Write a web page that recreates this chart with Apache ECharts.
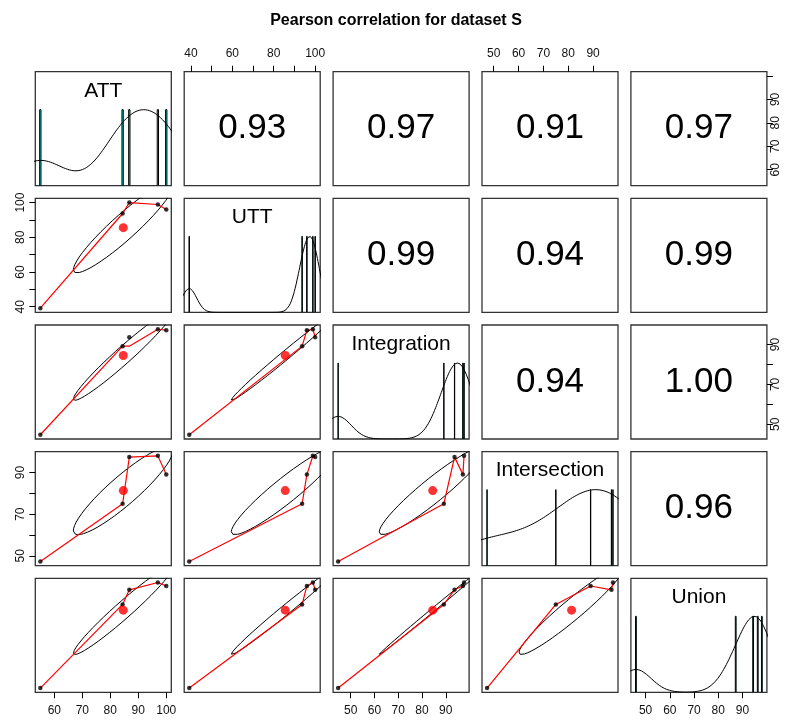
<!DOCTYPE html>
<html>
<head>
<meta charset="utf-8">
<script src="https://cdn.jsdelivr.net/npm/echarts@6/dist/echarts.min.js"></script>
<style>
  html, body { margin: 0; padding: 0; background: #fff; }
  #chart { width: 792px; height: 722px; }
</style>
</head>
<body>
<div id="chart"></div>
<script>
const names = ['ATT', 'UTT', 'Integration', 'Intersection', 'Union']
const att = [55, 84.4, 86.8, 97, 100]
const utt = [39.2, 93.7, 100, 98.9, 96.0]
const integration = [44.7, 89.2, 93.7, 97.7, 97.2]
const intersection = [47.3, 75.0, 97.4, 98.0, 89.0]
const union = [46.0, 87.2, 94.4, 98.0, 96.3]

// printed correlations, upper triangle row by row
const corText = ['0.93', '0.97', '0.91', '0.97', '0.99', '0.94', '0.99', '0.94', '1.00', '0.96']

// ticks and printed labels for each variable's axis
const ticks = [[60, 70, 80, 90, 100], [40, 50, 60, 70, 80, 90, 100], [50, 60, 70, 80, 90], [50, 60, 70, 80, 90], [50, 60, 70, 80, 90]]
const labelsX = [[60, 70, 80, 90, 100], [40, 60, 80, 100], [50, 60, 70, 80, 90], [50, 60, 70, 80, 90], [50, 60, 70, 80, 90]]
const labelsY = [[60, 70, 80, 90], [40, 60, 80, 100], [50, 70, 90], [50, 70, 90], [50, 70, 90]]

// red smoother where it leaves the points (y at each x, x sorted)
const smoothIntegrationAtt = [44.7, 89.2, 89.2, 97.7, 97.2]
const smoothFix = { '2,0': smoothIntegrationAtt }

const vars = [att, utt, integration, intersection, union]
const FONT = 'Liberation Sans, Arial, sans-serif'
const colLeft = 35.3, colStep = 148.9, rowTop = 71.7, rowStep = 126.65
const cellW = 136, cellH = 114

const mean = a => a.reduce((s, v) => s + v, 0) / a.length
const sd = a => { const m = mean(a); return Math.sqrt(a.reduce((s, v) => s + (v - m) * (v - m), 0) / (a.length - 1)) }
const cor = (a, b) => {
  const ma = mean(a), mb = mean(b)
  let sab = 0, saa = 0, sbb = 0
  for (let k = 0; k < a.length; k++) {
    sab += (a[k] - ma) * (b[k] - mb); saa += (a[k] - ma) ** 2; sbb += (b[k] - mb) ** 2
  }
  return sab / Math.sqrt(saa * sbb)
}
const extRange = a => {
  const lo = Math.min(...a), hi = Math.max(...a), d = (hi - lo) * 0.04
  return [lo - d, hi + d]
}
const quantile = (a, p) => {
  const s = [...a].sort((x, y) => x - y), h = (s.length - 1) * p, lo = Math.floor(h)
  return s[lo] + (h - lo) * ((s[lo + 1] ?? s[lo]) - s[lo])
}

// gaussian density, bw = nrd * 1.2, scaled to max 1
function density (a) {
  const iqr = (quantile(a, 0.75) - quantile(a, 0.25)) / 1.34
  const bw = 1.2 * 1.06 * Math.min(sd(a), iqr) * Math.pow(a.length, -0.2)
  const lo = Math.min(...a) - 3 * bw, hi = Math.max(...a) + 3 * bw
  const pts = []
  for (let k = 0; k < 512; k++) {
    const x = lo + (hi - lo) * k / 511
    let y = 0
    a.forEach(v => { y += Math.exp(-0.5 * ((x - v) / bw) ** 2) })
    pts.push([x, y])
  }
  const m = Math.max(...pts.map(p => p[1]))
  return pts.map(p => [p[0], p[1] / m])
}

// correlation ellipse as drawn by psych
function ellipse (xv, yv) {
  const xm = mean(xv), ym = mean(yv), xs = sd(xv), ys = sd(yv), r = cor(xv, yv)
  const t = Math.sign(r) / Math.sqrt(2), a1 = Math.sqrt(1 + r), a2 = Math.sqrt(1 - r)
  const pts = []
  for (let k = 0; k <= 51; k++) {
    const ang = k * 2 * Math.PI / 51
    const c = Math.cos(ang) * a1, s = Math.sin(ang) * a2
    pts.push([t * (c - s) * xs + xm, t * (c + s) * ys + ym])
  }
  return pts
}

const grids = [], xAxes = [], yAxes = [], series = [], graphics = []
let corIdx = 0

for (let i = 0; i < 5; i++) {
  for (let j = 0; j < 5; j++) {
    const g = i * 5 + j
    const left = colLeft + j * colStep, top = rowTop + i * rowStep
    grids.push({ left, top, width: cellW, height: cellH, show: true, borderColor: '#333', borderWidth: 1.3, backgroundColor: 'transparent' })

    const xr = extRange(vars[j])
    const yr = i === j ? [0, 1.5] : extRange(vars[i])
    const showX = (i === 4 && j % 2 === 0) || (i === 0 && j % 2 === 1)
    const showY = (j === 0 && i % 2 === 1) || (j === 4 && i % 2 === 0)

    xAxes.push({
      gridIndex: g, type: 'value', min: xr[0], max: xr[1],
      position: i === 0 ? 'top' : 'bottom',
      axisLine: { show: false, onZero: false },
      splitLine: { show: false },
      axisTick: { show: showX, length: 6, customValues: ticks[j], lineStyle: { color: '#000' } },
      axisLabel: { show: showX, customValues: labelsX[j], margin: 12, fontSize: 12, color: '#111', fontFamily: FONT }
    })
    yAxes.push({
      gridIndex: g, type: 'value', min: yr[0], max: yr[1],
      position: j === 0 ? 'left' : 'right',
      axisLine: { show: false, onZero: false },
      splitLine: { show: false },
      axisTick: { show: showY, length: 6, customValues: i === j ? [] : ticks[i], lineStyle: { color: '#000' } },
      axisLabel: { show: showY, customValues: i === j ? [] : labelsY[i], rotate: 90, margin: j === 0 ? 9 : 3, fontSize: 12, color: '#111', fontFamily: FONT }
    })

    if (i > j) {
      const xv = vars[j], yv = vars[i]
      const pts = xv.map((x, k) => [x, yv[k]])
      const sorted = [...pts].sort((a, b) => a[0] - b[0])
      const fix = smoothFix[i + ',' + j]
      const smooth = fix ? sorted.map((p, k) => [p[0], fix[k]]) : sorted
      series.push({ type: 'line', xAxisIndex: g, yAxisIndex: g, data: ellipse(xv, yv), showSymbol: false, lineStyle: { color: '#000', width: 1 }, z: 2 })
      series.push({ type: 'line', xAxisIndex: g, yAxisIndex: g, data: smooth, showSymbol: false, lineStyle: { color: '#ff0000', width: 1.2 }, z: 3 })
      series.push({ type: 'scatter', xAxisIndex: g, yAxisIndex: g, data: pts, symbolSize: 4.5, itemStyle: { color: '#000' }, z: 4 })
      series.push({ type: 'scatter', xAxisIndex: g, yAxisIndex: g, data: [[mean(xv), mean(yv)]], symbolSize: 9, itemStyle: { color: '#ff0000' }, z: 5 })
    } else if (i === j) {
      const v = vars[i]
      const uniq = [...new Set(v)].sort((a, b) => a - b)
      const counts = uniq.map(u => v.filter(x => x === u).length)
      const maxC = Math.max(...counts)
      let minDiff = Infinity
      for (let k = 1; k < uniq.length; k++) minDiff = Math.min(minDiff, uniq[k] - uniq[k - 1])
      const ib = minDiff * (uniq.length - 1) / 41
      series.push({
        type: 'custom', xAxisIndex: g, yAxisIndex: g, clip: true,
        data: uniq.map((u, k) => [u, counts[k] / maxC]),
        renderItem: (params, api) => {
          const x = api.value(0), h = api.value(1)
          const p0 = api.coord([x - ib, h]), p1 = api.coord([x + ib, 0])
          return { type: 'rect', shape: { x: p0[0], y: p0[1], width: p1[0] - p0[0], height: p1[1] - p0[1] }, style: { fill: '#00ffff', stroke: '#000', lineWidth: 1 } }
        }
      })
      series.push({ type: 'line', xAxisIndex: g, yAxisIndex: g, data: density(v), showSymbol: false, clip: true, lineStyle: { color: '#000', width: 1 }, z: 3 })
      graphics.push({ type: 'text', x: left + cellW / 2, y: top + cellH * (1 - 0.8333), style: { text: names[i], fontSize: 21, fontFamily: FONT, fill: '#000', textAlign: 'center', textVerticalAlign: 'middle' } })
    } else {
      graphics.push({ type: 'text', x: left + cellW / 2, y: top + cellH / 2, style: { text: corText[corIdx++], fontSize: 35, fontFamily: FONT, fill: '#000', textAlign: 'center', textVerticalAlign: 'middle' } })
    }
  }
}

const chart = echarts.init(document.getElementById('chart'))
chart.setOption({
  animation: false,
  backgroundColor: '#fff',
  title: { text: 'Pearson correlation for dataset S', left: 'center', top: 8, textStyle: { fontSize: 16, fontWeight: 'bold', fontFamily: FONT, color: '#000' } },
  grid: grids,
  xAxis: xAxes,
  yAxis: yAxes,
  series,
  graphic: graphics
})
</script>
</body>
</html>
